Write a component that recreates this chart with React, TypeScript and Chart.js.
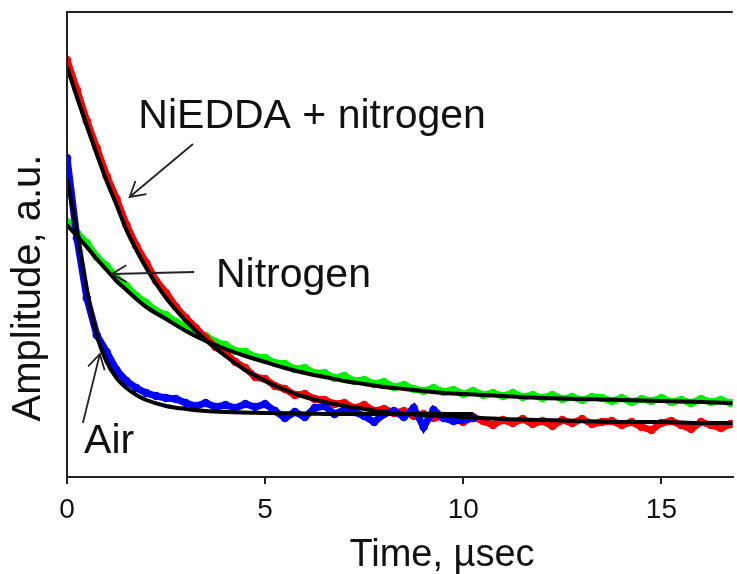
import React, { useEffect, useRef } from 'react';
import { Chart, registerables } from 'chart.js';

Chart.register(...registerables);

// sampling step of the measured traces (µs)
const STEP = 0.25;

// measured traces (amplitude, a.u.)
const redData = [417, 387, 356, 329, 301, 278, 252, 231, 214, 196, 184, 170, 159, 149, 139, 130, 124, 115, 109, 100,
  98, 91, 88, 82, 83, 78, 77, 73, 74, 69, 72, 66, 68, 64, 66, 61, 63, 59, 61, 58,
  55, 60, 56, 52, 57, 54, 58, 53, 56, 51, 57, 54, 58, 53, 55, 56, 52, 55, 50, 47,
  54, 56, 52, 48, 55, 52, 49, 53];
const greenData = [255, 244, 234, 220, 211, 199, 191, 181, 174, 166, 162, 155, 150, 144, 141, 135, 132, 126, 125, 120,
  119, 114, 113, 108, 109, 104, 104, 99, 101, 96, 97, 93, 95, 90, 92, 88, 86, 89, 85, 87,
  83, 86, 82, 84, 81, 84, 80, 82, 79, 82, 78, 80, 77, 80, 79, 76, 79, 75, 78, 76,
  79, 75, 77, 74, 78, 75, 77, 74];
const blueData = [319, 239, 179, 142, 125, 107, 96, 89, 84, 81, 79, 78, 74, 71, 74, 70, 72, 69, 73, 70,
  73, 66, 59, 65, 60, 69, 71, 63, 67, 65, 61, 55, 63, 66, 60, 69, 50, 67, 59, 56,
  57, 59];

// fitted curves
const redFitT = [0, 0.25, 0.5, 0.75, 1, 1.25, 1.5, 1.75, 2, 2.25, 2.5, 2.75, 3, 3.5, 4, 4.5, 5, 5.5, 6, 6.5, 7, 7.5, 8, 9, 10, 11, 12, 13, 14, 15, 16, 16.8];
const redFit = [410, 380, 351, 323, 296, 272, 247, 227, 209, 193, 179, 167, 156, 137, 121, 107, 96, 87, 80, 75, 71, 68, 65, 62, 60, 58, 57, 56, 55, 55, 54, 54];
const greenFitT = [0, 0.25, 0.5, 0.75, 1, 1.25, 1.5, 1.75, 2, 2.5, 3, 3.5, 4, 4.5, 5, 5.5, 6, 6.5, 7, 7.5, 8, 8.5, 9, 9.5, 10, 11, 12, 13, 14, 15, 16, 16.8];
const greenFit = [252, 241, 230, 218, 207, 196, 187, 178, 170, 158, 146, 136, 128, 121, 115, 109, 104, 100, 96, 93, 90, 88, 86, 84, 83, 81, 79, 78, 77, 76, 75, 74];
const blueFitT = [0, 0.25, 0.5, 0.75, 1, 1.25, 1.5, 1.75, 2, 2.5, 3, 3.5, 4, 5, 6, 7, 8, 9, 10.25];
const blueFit = [299, 245, 187, 142, 115, 99, 89, 82, 77, 71, 68, 66, 65, 64, 63.5, 63, 63, 63, 63];

const xTickValues = [0, 5, 10, 15];
const X_MIN = 0;
const X_MAX = 16.8;
const Y_MIN = 0;
const Y_MAX = 465;

// annotations (data coordinates)
const annotationTexts = [
  { text: 'NiEDDA + nitrogen', t: 1.8, a: 349 },
  { text: 'Nitrogen', t: 3.76, a: 190 },
  { text: 'Air', t: 0.43, a: 24 },
];
const annotationArrows = [
  { from: [3.18, 333], to: [1.58, 280] },
  { from: [3.21, 205], to: [1.13, 203] },
  { from: [0.4, 54], to: [0.83, 123] },
];

const FONT = '"Liberation Sans", Arial, sans-serif';
const TEXT_COLOR = '#111';

const toPoints = (vals: number[], step: number) => vals.map((y, i) => ({ x: i * step, y }));
const zipPoints = (ts: number[], vals: number[]) => vals.map((y, i) => ({ x: ts[i], y }));

const decorPlugin = {
  id: 'decor',
  afterDraw(chart: any) {
    const ctx = chart.ctx as CanvasRenderingContext2D;
    const { left, top, right, bottom } = chart.chartArea;
    const xs = chart.scales.x;
    const ys = chart.scales.y;
    ctx.save();
    // frame: left axis and top border
    ctx.strokeStyle = '#222';
    ctx.lineWidth = 2;
    ctx.beginPath();
    ctx.moveTo(left, bottom);
    ctx.lineTo(left, top);
    ctx.lineTo(right, top);
    ctx.stroke();

    // annotation texts
    ctx.fillStyle = TEXT_COLOR;
    ctx.font = `41px ${FONT}`;
    ctx.textAlign = 'left';
    ctx.textBaseline = 'alphabetic';
    for (const a of annotationTexts) {
      ctx.fillText(a.text, xs.getPixelForValue(a.t), ys.getPixelForValue(a.a));
    }
    // arrows
    ctx.strokeStyle = '#222';
    ctx.lineWidth = 1.8;
    for (const ar of annotationArrows) {
      const x1 = xs.getPixelForValue(ar.from[0]);
      const y1 = ys.getPixelForValue(ar.from[1]);
      const x2 = xs.getPixelForValue(ar.to[0]);
      const y2 = ys.getPixelForValue(ar.to[1]);
      const ang = Math.atan2(y2 - y1, x2 - x1);
      const L = 17;
      const th = (30 * Math.PI) / 180;
      ctx.beginPath();
      ctx.moveTo(x1, y1);
      ctx.lineTo(x2, y2);
      ctx.moveTo(x2 - L * Math.cos(ang - th), y2 - L * Math.sin(ang - th));
      ctx.lineTo(x2, y2);
      ctx.lineTo(x2 - L * Math.cos(ang + th), y2 - L * Math.sin(ang + th));
      ctx.stroke();
    }

    // axis titles
    ctx.fillStyle = TEXT_COLOR;
    ctx.font = `38px ${FONT}`;
    ctx.textAlign = 'center';
    ctx.fillText('Time, \u00b5sec', 442, 566);
    ctx.font = `40px ${FONT}`;
    ctx.translate(40, 288);
    ctx.rotate(-Math.PI / 2);
    ctx.fillText('Amplitude, a.u.', 0, 0);
    ctx.restore();
  },
};

export default function App() {
  const ref = useRef<HTMLCanvasElement | null>(null);
  useEffect(() => {
    if (!ref.current) return;
    const dataStyle = (color: string, order: number) => ({
      borderColor: color,
      backgroundColor: color,
      borderWidth: 7,
      pointRadius: 4.3,
      pointBorderWidth: 0,
      pointBackgroundColor: color,
      fill: false,
      tension: 0,
      clip: 0,
      order,
    });
    const fitStyle = {
      borderColor: '#000',
      borderWidth: 4,
      pointRadius: 0,
      fill: false,
      cubicInterpolationMode: 'monotone' as const,
      clip: 0,
      order: 0,
    };
    const chart = new Chart(ref.current, {
      type: 'line',
      data: {
        datasets: [
          { label: 'Nitrogen', data: toPoints(greenData, STEP), ...dataStyle('#00f000', 3) },
          { label: 'NiEDDA + nitrogen', data: toPoints(redData, STEP), ...dataStyle('#ff0000', 2) },
          { label: 'Air', data: toPoints(blueData, STEP), ...dataStyle('#0000ff', 1) },
          { label: 'Nitrogen fit', data: zipPoints(greenFitT, greenFit), ...fitStyle },
          { label: 'NiEDDA fit', data: zipPoints(redFitT, redFit), ...fitStyle },
          { label: 'Air fit', data: zipPoints(blueFitT, blueFit), ...fitStyle },
        ] as any,
      },
      options: {
        animation: false,
        responsive: false,
        events: [],
        layout: { padding: { left: 67, top: 12, right: 0, bottom: 0 } },
        plugins: { legend: { display: false }, tooltip: { enabled: false } },
        scales: {
          x: {
            type: 'linear',
            min: X_MIN,
            max: X_MAX,
            afterFit: (s: any) => { s.height = 97; },
            afterBuildTicks: (s: any) => { s.ticks = xTickValues.map((v) => ({ value: v })); },
            ticks: {
              includeBounds: false,
              color: TEXT_COLOR,
              font: { size: 28, family: FONT },
              padding: 9,
              maxRotation: 0,
              autoSkip: false,
            },
            grid: {
              display: true,
              drawOnChartArea: false,
              drawTicks: true,
              tickLength: 7,
              color: '#222',
              lineWidth: 2,
            },
            border: { display: true, color: '#222', width: 2 },
          },
          y: {
            type: 'linear',
            display: false,
            min: Y_MIN,
            max: Y_MAX,
          },
        },
      } as any,
      plugins: [decorPlugin],
    });
    return () => chart.destroy();
  }, []);
  return (
    <div style={{ position: 'absolute', left: 0, top: 0, width: 737, height: 574, background: '#fff' }}>
      <canvas ref={ref} width={737} height={574} style={{ display: 'block' }} />
    </div>
  );
}
